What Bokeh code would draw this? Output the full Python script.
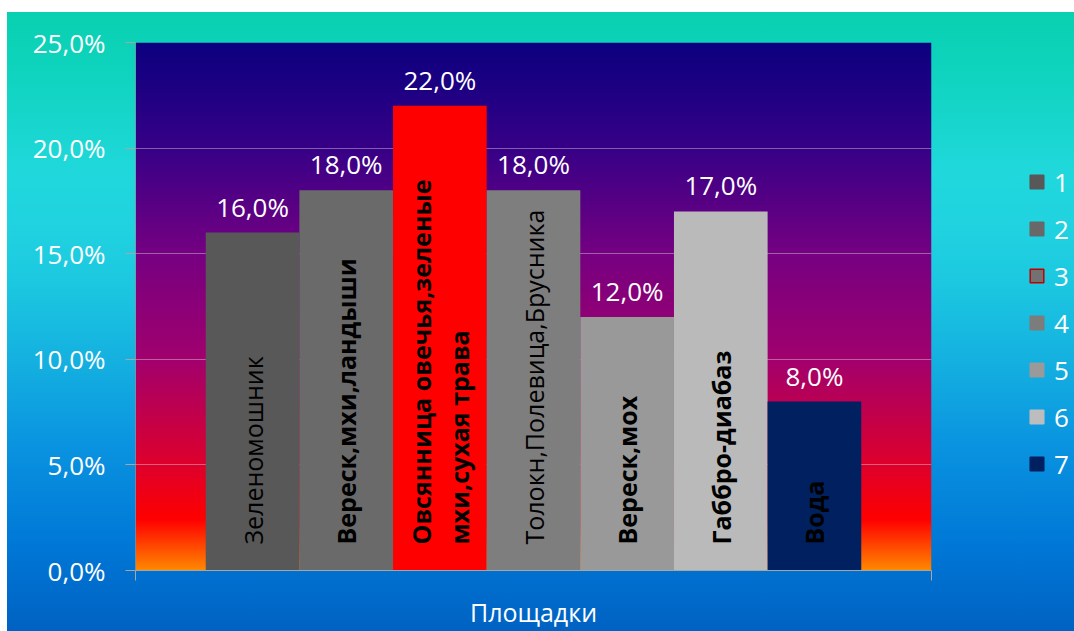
import numpy as np
from bokeh.plotting import figure
from bokeh.models import (ColumnDataSource, Range1d, FixedTicker, LabelSet,
                          Legend, LegendItem)
from bokeh.embed import file_html
from bokeh.resources import INLINE
from bokeh.core.properties import value

# ---------------- data ----------------
series_names = ["1", "2", "3", "4", "5", "6", "7"]
values = [16.0, 18.0, 22.0, 18.0, 12.0, 17.0, 8.0]
bar_names = [
    "Зеленомошник",
    "Вереск,мхи,ландыши",
    "Овсянница овечья,зеленые\nмхи,сухая трава",
    "Толокн,Полевица,Брусника",
    "Вереск,мох",
    "Габбро-диабаз",
    "Вода",
]
y_ticks = [0, 5, 10, 15, 20, 25]
y_tick_labels = ["0,0%", "5,0%", "10,0%", "15,0%", "20,0%", "25,0%"]
x_axis_title = "Площадки"

# ---------------- styles ----------------
bar_colors = ["#585858", "#6a6a6a", "#ff0000", "#7e7e7e", "#999999", "#bababa", "#002060"]
legend_fill = ["#585858", "#686868", "#727272", "#7c7c7c", "#9a9a9a", "#bdbdbd", "#002060"]
legend_line = ["#585858", "#686868", "#c00000", "#7c7c7c", "#9a9a9a", "#bdbdbd", "#002060"]
name_styles = ["normal", "bold", "bold", "normal", "bold", "bold", "bold"]
GAP = 0.75  # Excel gap width 150% split on both sides

n = len(values)
xs = [GAP + i + 0.5 for i in range(n)]
x_max = n + 2 * GAP
value_labels = [f"{v:.1f}".replace(".", ",") + "%" for v in values]

outer_bg = ("linear-gradient(to right, #ffffff 0px, #ffffff 7px, rgba(255,255,255,0) 7px), "
            "linear-gradient(to bottom, #ffffff 0px, #ffffff 12px, #08d0b0 12px, "
            "#10d4c0 80px, #20d8dc 173px, #20d2e0 230px, #1cc8e0 282px, "
            "#14b0e0 362px, #0a94e0 443px, #0078d7 543px, #0062c2 631px)")

p = figure(frame_width=796, frame_height=528,
           x_range=Range1d(0, x_max), y_range=Range1d(0, 25),
           output_backend="svg", toolbar_location=None,
           min_border_left=135, min_border_right=143, min_border_top=42,
           min_border_bottom=61)
p.border_fill_alpha = 0
p.background_fill_alpha = 0
p.outline_line_color = None
p.styles = {"background": outer_bg}

# frame gradient (navy -> purple -> magenta -> red -> orange)
stop_pos = [0.0, 0.095, 0.2, 0.4, 0.6, 0.8, 1.0]
stop_rgb = [(255, 135, 0), (255, 0, 0), (222, 0, 45), (162, 0, 110),
            (118, 0, 130), (55, 0, 135), (12, 0, 128)]
N = 264
frac = np.linspace(0, 1, N)
img = np.empty((N, 1), dtype=np.uint32)
view = img.view(dtype=np.uint8).reshape((N, 1, 4))
for c in range(3):
    view[:, 0, c] = np.interp(frac, stop_pos, [s[c] for s in stop_rgb]).astype(np.uint8)
view[:, 0, 3] = 255
p.image_rgba(image=[img], x=0, y=0, dw=x_max, dh=25, level="image")

# grid
p.xgrid.visible = False
p.ygrid.ticker = FixedTicker(ticks=y_ticks)
p.ygrid.grid_line_color = "#d8d8d8"
p.ygrid.grid_line_alpha = 0.45

# y axis
p.yaxis.ticker = FixedTicker(ticks=y_ticks)
p.yaxis.major_label_overrides = {t: lab for t, lab in zip(y_ticks, y_tick_labels)}
p.yaxis.major_label_text_font = "Open Sans"
p.yaxis.major_label_text_font_size = "26px"
p.yaxis.major_label_text_color = "white"
p.yaxis.major_label_standoff = 20
p.yaxis.major_tick_out = 10
p.yaxis.major_tick_in = 0
p.yaxis.minor_tick_out = 0
p.yaxis.minor_tick_in = 0
p.yaxis.major_tick_line_color = "#a6a6a6"
p.yaxis.axis_line_color = "#a6a6a6"
p.yaxis.axis_line_alpha = 0.5

# x axis
p.xaxis.ticker = FixedTicker(ticks=[0, x_max])
p.xaxis.major_label_overrides = {0: "", x_max: ""}
p.xaxis.major_label_text_font_size = "1px"
p.xaxis.major_label_standoff = 0
p.xaxis.major_tick_out = 10
p.xaxis.major_tick_in = 0
p.xaxis.minor_tick_out = 0
p.xaxis.minor_tick_in = 0
p.xaxis.major_tick_line_color = "#a6a6a6"
p.xaxis.axis_line_color = "#a6a6a6"
p.xaxis.axis_label = x_axis_title
p.xaxis.axis_label_text_font = "Open Sans"
p.xaxis.axis_label_text_font_size = "25px"
p.xaxis.axis_label_text_font_style = "normal"
p.xaxis.axis_label_text_color = "white"
p.xaxis.axis_label_standoff = 14

# bars
src = ColumnDataSource(dict(x=xs, top=values, color=bar_colors, vlabel=value_labels,
                            name=bar_names, style=name_styles))
p.vbar(x="x", top="top", width=1.0, fill_color="color", line_color=None, source=src)

p.add_layout(LabelSet(x="x", y="top", text="vlabel", source=src,
                      text_align="center", text_baseline="alphabetic", y_offset=16,
                      text_color="white", text_font=value("Open Sans"),
                      text_font_size=value("26px")))

p.add_layout(LabelSet(x="x", y=0, text="name", source=src, angle=np.pi / 2,
                      text_align="left", text_baseline="middle", y_offset=26,
                      text_color="black", text_font=value("Open Sans"),
                      text_font_size=value("25px"), text_font_style="style",
                      text_line_height=1.1))

# legend (proxy renderer, not drawn in the frame)
leg_src = ColumnDataSource(dict(x=[np.nan] * n, top=[np.nan] * n,
                                fill=legend_fill, line=legend_line))
r_leg = p.vbar(x="x", top="top", width=1.0, fill_color="fill", line_color="line",
               line_width=1.5, source=leg_src)
items = [LegendItem(label=value(s), renderers=[r_leg], index=i)
         for i, s in enumerate(series_names)]
legend = Legend(items=items, location=(97, 88), orientation="vertical",
                glyph_width=17, glyph_height=17, label_height=37, spacing=10,
                label_standoff=9, padding=0, margin=0,
                background_fill_alpha=0, border_line_alpha=0,
                label_text_color="white", label_text_font="Open Sans",
                label_text_font_size="26px")
p.add_layout(legend, "right")

open("out.html", "w").write(file_html(p, INLINE))
